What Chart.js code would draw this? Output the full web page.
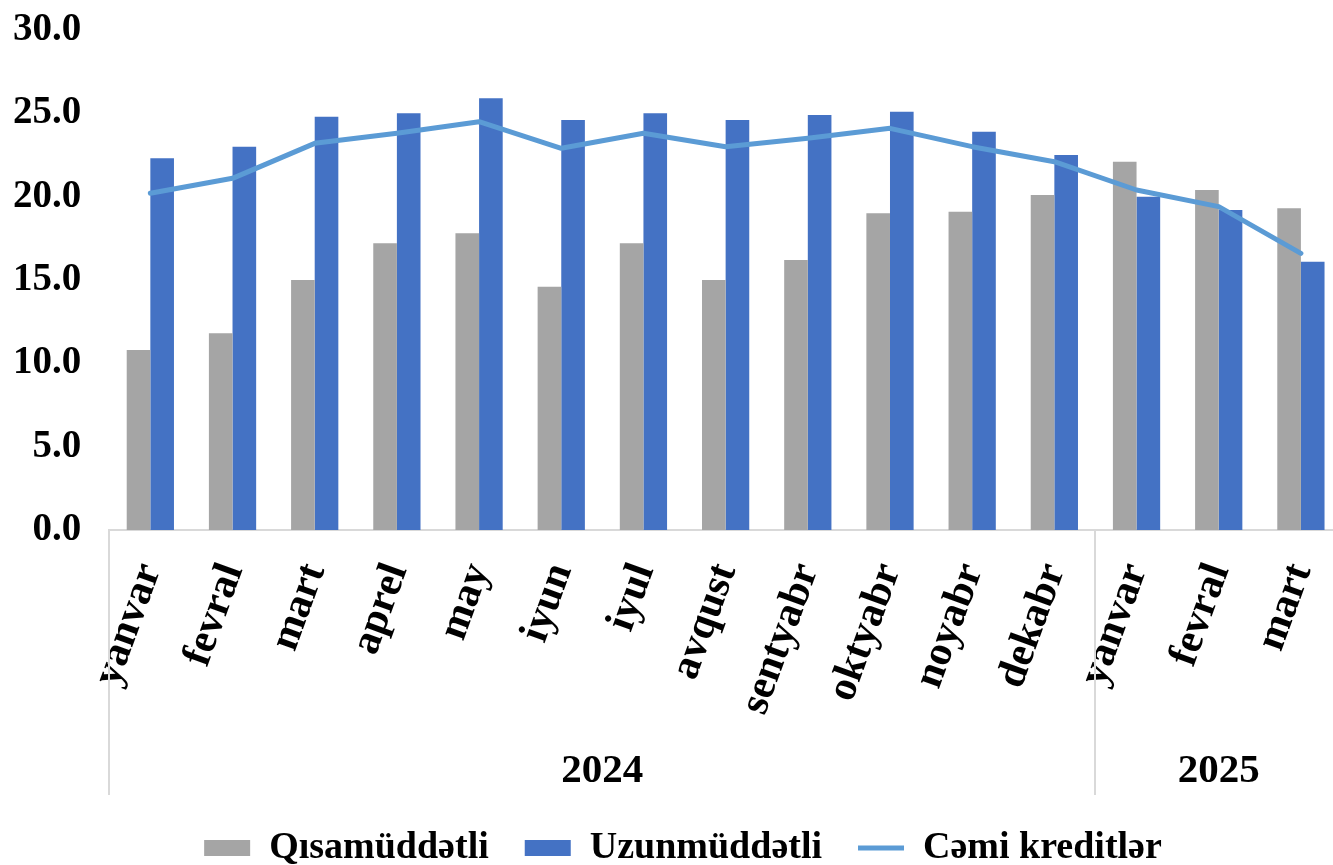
<!DOCTYPE html>
<html>
<head>
<meta charset="utf-8">
<script src="https://cdn.jsdelivr.net/npm/chart.js@4"></script>
<style>
html,body{margin:0;padding:0;background:#fff;}
canvas{display:block;}
</style>
</head>
<body>
<canvas id="c" width="1333" height="865"></canvas>
<script>
const categories = ['yanvar','fevral','mart','aprel','may','iyun','iyul','avqust','sentyabr','oktyabr','noyabr','dekabr','yanvar','fevral','mart'];
const years = ['2024','2025'];
const yearSpans = [12, 3];
const shortTerm = [10.8, 11.8, 15.0, 17.2, 17.8, 14.6, 17.2, 15.0, 16.2, 19.0, 19.1, 20.1, 22.1, 20.4, 19.3];
const longTerm = [22.3, 23.0, 24.8, 25.0, 25.9, 24.6, 25.0, 24.6, 24.9, 25.1, 23.9, 22.5, 20.0, 19.2, 16.1];
const totalLoans = [20.2, 21.1, 23.2, 23.8, 24.5, 22.9, 23.8, 23.0, 23.5, 24.1, 23.0, 22.1, 20.4, 19.4, 16.6];
const seriesNames = ['Qısamüddətli', 'Uzunmüddətli', 'Cəmi kreditlər'];
const yTicks = [0, 5, 10, 15, 20, 25, 30];

const FONT = 'Liberation Serif';
const PLOT_RIGHT = 1342; // plot area runs slightly past the canvas edge, as in the reference

const groupPlugin = {
  id: 'groupPlugin',
  afterLayout(chart) {
    const xs = chart.scales.x;
    xs.right = PLOT_RIGHT;
    xs.width = xs.right - xs.left;
    xs.configure();
    chart.chartArea.right = PLOT_RIGHT;
    chart.chartArea.width = PLOT_RIGHT - chart.chartArea.left;
    // centre the legend row like the reference
    const lg = chart.legend;
    if (lg) { lg.left = 33; lg.right = 1333; lg.width = 1300; }
  },
  afterDraw(chart) {
    const ctx = chart.ctx;
    const x = chart.scales.x;
    const top = chart.chartArea.bottom;
    const bottom = top + 265;
    ctx.save();
    ctx.strokeStyle = '#d9d9d9';
    ctx.lineWidth = 2;
    let start = 0;
    const bounds = [chart.chartArea.left];
    yearSpans.forEach((n) => {
      const end = start + n - 1;
      const right = end < categories.length - 1
        ? (x.getPixelForValue(end) + x.getPixelForValue(end + 1)) / 2
        : x.getPixelForValue(end) + (x.getPixelForValue(end) - x.getPixelForValue(end - 1)) / 2;
      bounds.push(right);
      start += n;
    });
    for (let i = 0; i < bounds.length - 1; i++) {
      ctx.beginPath();
      ctx.moveTo(Math.round(bounds[i]), top);
      ctx.lineTo(Math.round(bounds[i]), bottom);
      ctx.stroke();
    }
    ctx.fillStyle = '#000';
    ctx.font = 'bold 41px "' + FONT + '"';
    ctx.textAlign = 'center';
    ctx.textBaseline = 'middle';
    years.forEach((yr, i) => {
      ctx.fillText(yr, (bounds[i] + bounds[i + 1]) / 2, 771);
    });
    ctx.restore();
  }
};

new Chart(document.getElementById('c'), {
  type: 'bar',
  data: {
    labels: categories,
    datasets: [
      { label: seriesNames[0], data: shortTerm, backgroundColor: '#a5a5a5', borderWidth: 0, order: 1, pointStyle: 'rect' },
      { label: seriesNames[1], data: longTerm, backgroundColor: '#4472c4', borderWidth: 0, order: 1, pointStyle: 'rect' },
      { label: seriesNames[2], data: totalLoans, type: 'line', borderColor: '#5b9bd5', backgroundColor: '#5b9bd5',
        borderWidth: 5, pointRadius: 0, tension: 0, order: 0, pointStyle: 'line',
        borderCapStyle: 'round', borderJoinStyle: 'round', clip: false }
    ]
  },
  options: {
    responsive: false,
    animation: false,
    layout: { padding: { left: -15, right: 0, top: 30, bottom: -12 } },
    datasets: { bar: { categoryPercentage: 0.575, barPercentage: 1 } },
    plugins: {
      tooltip: { enabled: false },
      legend: {
        position: 'bottom',
        labels: {
          usePointStyle: true,
          pointStyleWidth: 46,
          boxHeight: 16,
          padding: 36,
          color: '#000',
          font: { family: FONT, size: 38, weight: 'bold' },
          sort: (a, b) => a.datasetIndex - b.datasetIndex
        }
      }
    },
    scales: {
      x: {
        grid: { display: false, drawTicks: false },
        border: { display: true, color: '#d9d9d9', width: 2 },
        ticks: {
          color: '#000',
          font: { family: FONT, size: 42, weight: 'bold' },
          minRotation: 70, maxRotation: 70,
          padding: 27,
          autoSkip: false
        },
        afterFit(scale) { scale.height = 263; scale.paddingLeft = 0; scale.paddingRight = 0; }
      },
      y: {
        min: 0, max: 30,
        grid: { display: false, drawTicks: false },
        border: { display: false },
        afterBuildTicks(scale) { scale.ticks = yTicks.map(v => ({ value: v })); },
        afterFit(scale) { scale.paddingTop = 0; scale.paddingBottom = 0; },
        ticks: {
          color: '#000',
          padding: 28,
          font: { family: FONT, size: 39, weight: 'bold' },
          callback: (v) => Number(v).toFixed(1)
        }
      }
    }
  },
  plugins: [groupPlugin]
});
</script>
</body>
</html>
